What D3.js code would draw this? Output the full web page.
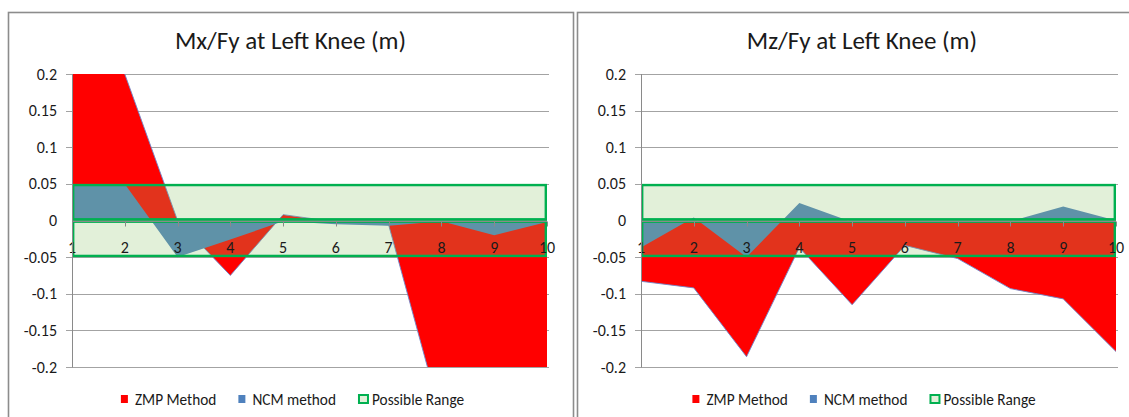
<!DOCTYPE html>
<html>
<head>
<meta charset="utf-8">
<script src="https://cdn.jsdelivr.net/npm/d3@7"></script>
<style>
  html, body { margin: 0; padding: 0; background: #ffffff; }
  svg { display: block; }
  text { font-family: Calibri, Carlito, "Open Sans", sans-serif; fill: #1a1a1a; }
</style>
</head>
<body>
<svg id="chart" width="1129" height="417"></svg>
<script>
// Sample index along the gait cycle
const categories = [1, 2, 3, 4, 5, 6, 7, 8, 9, 10];

// Mx/Fy at the left knee (m)
const mxZmp = [0.30, 0.20, 0.0, -0.075, 0.008, -0.002, -0.006, -0.27, -0.32, -0.30];
const mxNcm = [0.05, 0.05, -0.05, -0.026, -0.001, -0.005, -0.007, -0.001, -0.02, -0.002];

// Mz/Fy at the left knee (m)
const mzZmp = [-0.083, -0.092, -0.186, -0.037, -0.115, -0.034, -0.052, -0.093, -0.107, -0.179];
const mzNcm = [-0.037, 0.004, -0.05, 0.024, -0.002, -0.003, -0.003, -0.001, 0.019, 0.0];

// Admissible band, drawn as two stacked boxes
const rangeBands = [[0, 0.05], [-0.05, 0]];

const yTicks = [0.2, 0.15, 0.1, 0.05, 0, -0.05, -0.1, -0.15, -0.2];
const yTickLabels = ["0.2", "0.15", "0.1", "0.05", "0", "-0.05", "-0.1", "-0.15", "-0.2"];

const seriesNames = ["ZMP Method", "NCM method", "Possible Range"];

const panels = [
  { title: "Mx/Fy at Left Knee (m)", zmp: mxZmp, ncm: mxNcm,
    frameX: 8, frameW: 565, plotL: 72, plotR: 547 },
  { title: "Mz/Fy at Left Knee (m)", zmp: mzZmp, ncm: mzNcm,
    frameX: 577, frameW: 570, plotL: 641, plotR: 1116 }
];

const COLORS = {
  zmp: "#ff0000",
  zmpEdge: "#6f86c8",
  ncm: "#4f81bd",
  rangeFill: "rgb(143,197,108)",
  rangeOpacity: 0.26,
  rangeStroke: "#00b050",
  rangeSwatch: "#e2f0d9",
  grid: "#a3a3a3",
  axis: "#8a8a8a",
  frame: "#8c8c8c"
};

const svg = d3.select("#chart");
const plotTop = 74, plotBottom = 367, frameTop = 12;

panels.forEach((p, i) => {
  const g = svg.append("g");

  // chart frame
  g.append("rect")
    .attr("x", p.frameX + 0.5).attr("y", frameTop + 0.5)
    .attr("width", p.frameW).attr("height", 420)
    .attr("fill", "#fff").attr("stroke", COLORS.frame).attr("stroke-width", 1.6);

  const x = d3.scaleLinear().domain([1, 10]).range([p.plotL, p.plotR]);
  const y = d3.scaleLinear().domain([-0.2, 0.2]).range([plotBottom, plotTop]);

  // title
  g.append("text")
    .attr("x", p.frameX + p.frameW / 2).attr("y", 49)
    .attr("text-anchor", "middle")
    .style("font-size", "25px")
    .text(p.title);

  // horizontal gridlines
  g.append("g").selectAll("line")
    .data(yTicks.filter(v => v !== 0))
    .join("line")
    .attr("x1", p.plotL - 6).attr("x2", p.plotR + 2)
    .attr("y1", d => Math.round(y(d)) + 0.5).attr("y2", d => Math.round(y(d)) + 0.5)
    .attr("stroke", COLORS.grid).attr("stroke-width", 1);

  const clipId = "plotclip" + i;
  svg.append("clipPath").attr("id", clipId)
    .append("rect")
    .attr("x", p.plotL).attr("y", plotTop)
    .attr("width", p.plotR - p.plotL).attr("height", plotBottom - plotTop);

  const plot = g.append("g").attr("clip-path", `url(#${clipId})`);

  const area = d3.area()
    .x((d, j) => x(categories[j]))
    .y0(y(0))
    .y1(d => y(d));
  const line = d3.line()
    .x((d, j) => x(categories[j]))
    .y(d => y(d));

  // ZMP series
  plot.append("path").datum(p.zmp)
    .attr("d", area).attr("fill", COLORS.zmp);
  plot.append("path").datum(p.zmp)
    .attr("d", line).attr("fill", "none")
    .attr("stroke", COLORS.zmpEdge).attr("stroke-width", 0.9);

  // NCM series
  plot.append("path").datum(p.ncm)
    .attr("d", area).attr("fill", COLORS.ncm);

  // possible range boxes (translucent fill, green outline drawn inside)
  rangeBands.forEach(([lo, hi]) => {
    const yTopB = y(hi), yBotB = y(lo);
    plot.append("rect")
      .attr("x", x(1)).attr("y", yTopB)
      .attr("width", x(10) - x(1)).attr("height", yBotB - yTopB)
      .attr("fill", COLORS.rangeFill).attr("fill-opacity", COLORS.rangeOpacity);
    plot.append("rect")
      .attr("x", x(1) + 1.2).attr("y", yTopB + 1.2)
      .attr("width", x(10) - x(1) - 2.4).attr("height", yBotB - yTopB - 2.4)
      .attr("fill", "none")
      .attr("stroke", COLORS.rangeStroke).attr("stroke-width", 2.4);
  });

  // category axis through zero
  const y0 = Math.round(y(0)) + 0.5;
  g.append("line")
    .attr("x1", p.plotL).attr("x2", p.plotR)
    .attr("y1", y0).attr("y2", y0)
    .attr("stroke", COLORS.axis).attr("stroke-width", 1);
  g.append("g").selectAll("line")
    .data(categories)
    .join("line")
    .attr("x1", d => Math.round(x(d)) + 0.5).attr("x2", d => Math.round(x(d)) + 0.5)
    .attr("y1", y0).attr("y2", y0 + 5)
    .attr("stroke", COLORS.axis).attr("stroke-width", 1);
  g.append("g").selectAll("text")
    .data(categories)
    .join("text")
    .attr("x", d => x(d)).attr("y", y(0) + 32)
    .attr("text-anchor", "middle")
    .style("font-size", "16px")
    .text(d => d);

  // value axis
  g.append("line")
    .attr("x1", p.plotL + 0.5).attr("x2", p.plotL + 0.5)
    .attr("y1", plotTop).attr("y2", plotBottom + 0.5)
    .attr("stroke", COLORS.axis).attr("stroke-width", 1);
  g.append("g").selectAll("text")
    .data(yTicks)
    .join("text")
    .attr("x", p.plotL - 15).attr("y", d => y(d) + 5.5)
    .attr("text-anchor", "end")
    .style("font-size", "16px")
    .text((d, j) => yTickLabels[j]);

  // legend
  const leg = g.append("g");
  let cx = 0;
  seriesNames.forEach((name, k) => {
    const it = leg.append("g").attr("transform", `translate(${cx},0)`);
    if (k < 2) {
      it.append("rect").attr("x", 0).attr("y", 395).attr("width", 7).attr("height", 8)
        .attr("fill", k === 0 ? COLORS.zmp : COLORS.ncm);
    } else {
      it.append("rect").attr("x", 1).attr("y", 395).attr("width", 9).attr("height", 8)
        .attr("fill", COLORS.rangeSwatch)
        .attr("stroke", COLORS.rangeStroke).attr("stroke-width", 2);
    }
    const tx = 14;
    const t = it.append("text").attr("x", tx).attr("y", 404.5)
      .style("font-size", "15.3px").text(name);
    const w = tx + t.node().getComputedTextLength();
    cx += w + 22;
  });
  const total = cx - 22;
  leg.attr("transform", `translate(${p.frameX + p.frameW / 2 - total / 2 + 2},0)`);
});
</script>
</body>
</html>
